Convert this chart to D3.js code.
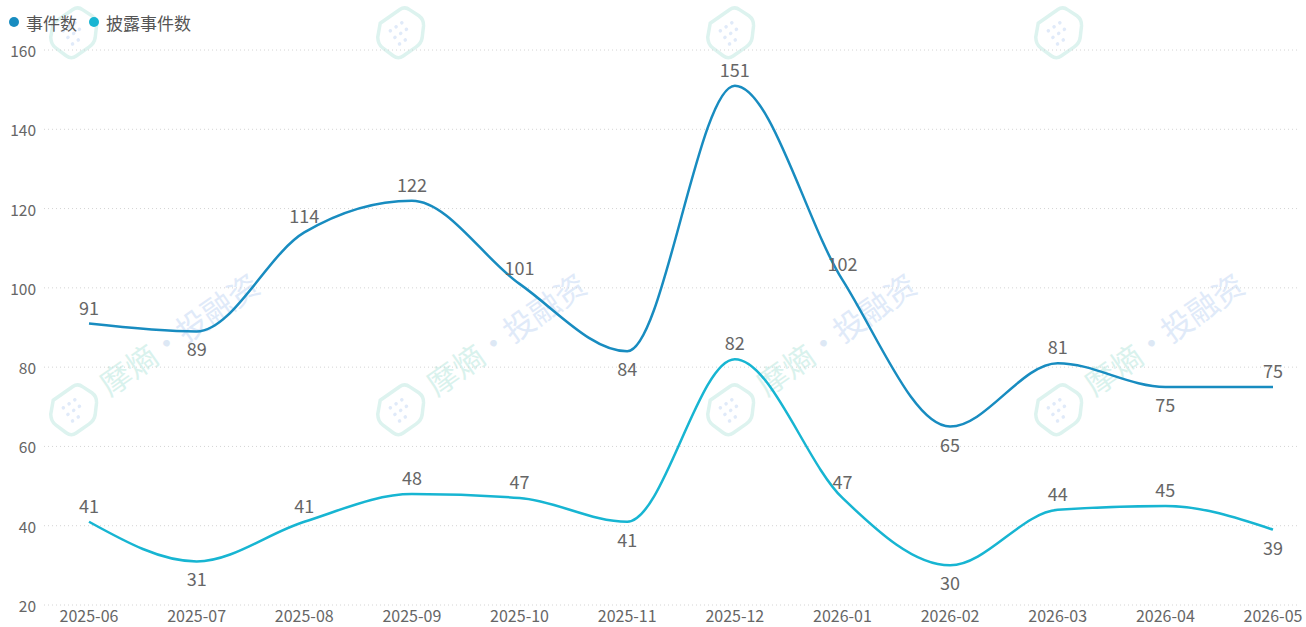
<!DOCTYPE html>
<html>
<head>
<meta charset="utf-8">
<script src="https://cdn.jsdelivr.net/npm/d3@7"></script>
<style>
  body { margin: 0; background: #fff; }
  svg { display: block; font-family: "Noto Sans CJK SC", "Noto Sans", sans-serif; }
</style>
</head>
<body>
<svg id="chart" width="1306" height="627"></svg>
<script>
const months = ["2025-06", "2025-07", "2025-08", "2025-09", "2025-10", "2025-11",
                "2025-12", "2026-01", "2026-02", "2026-03", "2026-04", "2026-05"];
const eventCounts = [91, 89, 114, 122, 101, 84, 151, 102, 65, 81, 75, 75];
const disclosedCounts = [41, 31, 41, 48, 47, 41, 82, 47, 30, 44, 45, 39];
const seriesNames = ["事件数", "披露事件数"];
const yTicks = [20, 40, 60, 80, 100, 120, 140, 160];

const colors = ["#188cc0", "#17b5d2"];
const svg = d3.select("#chart");
const width = 1306, height = 627;
const margin = {left: 44, right: 6, top: 50, bottom: 22};

// watermark (top row is cut by the edge, so only the icon shows there)
const wm = svg.append("g").attr("class", "watermark");
const wmSpots = [[75, 30, false], [402, 30, false], [732, 30, false], [1060, 30, false],
                 [75, 407, true], [402, 407, true], [732, 407, true], [1060, 407, true]];
wmSpots.forEach(p => {
    let g = wm.append("g").attr("transform", `translate(${p[0]},${p[1]}) rotate(-35)`);
    g.append("path")
        .attr("d", "M-14,-18 L10,-18 Q16,-18 18,-12 L22,-2 Q24,4 20,9 L12,18 Q8,22 2,22 L-14,22 Q-20,22 -22,16 L-26,4 Q-28,-2 -24,-8 Z")
        .attr("fill", "none").attr("stroke", "#ddf3ef").attr("stroke-width", 3.5);
    [[-10, -6], [-3, -6], [4, -6], [-10, 2], [-3, 2], [4, 2], [-10, 10], [-3, 10]].forEach(d => {
        g.append("circle").attr("cx", d[0]).attr("cy", d[1]).attr("r", 1.8).attr("fill", "#e0eaf9");
    });
    if (p[2]) {
        let t = g.append("text").attr("x", 34).attr("y", 12)
            .attr("font-size", 31);
        t.append("tspan").attr("fill", "#d9f2ed").text("摩熵");
        t.append("tspan").attr("fill", "#dde8f5").text("·");
        t.append("tspan").attr("fill", "#e0eaf9").text("投融资");
    }
});

const x = d3.scalePoint().domain(months).range([89, 1273]);
const y = d3.scaleLinear().domain([20, 160]).range([605, 50]);

// grid lines
svg.append("g").selectAll("line").data(yTicks).join("line")
    .attr("x1", margin.left).attr("x2", width - margin.right)
    .attr("y1", d => y(d)).attr("y2", d => y(d))
    .attr("stroke", "#d4d4d4").attr("stroke-width", 1)
    .attr("stroke-dasharray", "1 3");

// y axis labels
svg.append("g").selectAll("text").data(yTicks).join("text")
    .attr("x", 36).attr("y", d => y(d))
    .attr("text-anchor", "end").attr("dominant-baseline", "central")
    .attr("font-size", 15.5).attr("fill", "#666")
    .text(d => d);

// x axis labels
svg.append("g").selectAll("text").data(months).join("text")
    .attr("x", d => x(d)).attr("y", 615)
    .attr("text-anchor", "middle").attr("dominant-baseline", "central")
    .attr("font-size", 16).attr("fill", "#666")
    .text(d => d);

const line = d3.line()
    .x((d, i) => x(months[i]))
    .y(d => y(d))
    .curve(d3.curveMonotoneX);

[eventCounts, disclosedCounts].forEach((vals, si) => {
    svg.append("path").datum(vals)
        .attr("d", line)
        .attr("fill", "none")
        .attr("stroke", colors[si])
        .attr("stroke-width", 2.5);

    // label below for local dips, otherwise above
    svg.append("g").selectAll("text").data(vals).join("text")
        .attr("x", (d, i) => x(months[i]))
        .attr("y", (d, i) => {
            let prev = vals[i - 1], next = vals[i + 1];
            let below = prev !== undefined && d < prev && (next === undefined || d <= next);
            return y(d) + (below ? 17 : -17);
        })
        .attr("text-anchor", "middle").attr("dominant-baseline", "central")
        .attr("font-size", 18).attr("fill", "#666")
        .text(d => d);
});

// legend
const legend = svg.append("g");
let lx = 14;
seriesNames.forEach((name, i) => {
    legend.append("circle").attr("cx", lx).attr("cy", 22).attr("r", 5).attr("fill", colors[i]);
    let t = legend.append("text").attr("x", lx + 12).attr("y", 22)
        .attr("dominant-baseline", "central")
        .attr("font-size", 17).attr("fill", "#555")
        .text(name);
    lx += 12 + t.node().getComputedTextLength() + 17;
});
</script>
</body>
</html>
